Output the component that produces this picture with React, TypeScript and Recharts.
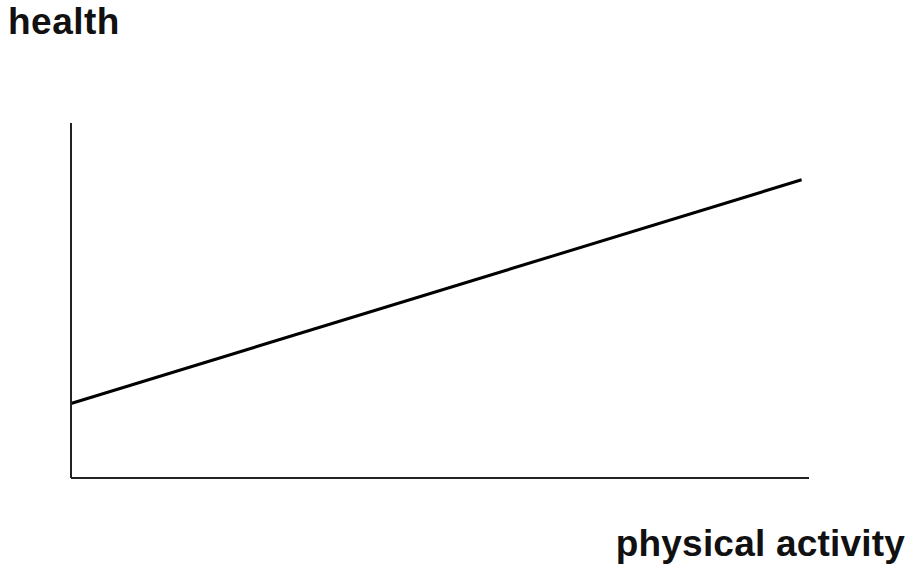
import React from 'react';
import { LineChart, Line, XAxis, YAxis, Label } from 'recharts';

const activity = [0, 99];
const healthValues = [21, 84];
const yTitle = 'health';
const xTitle = 'physical activity';

const data = activity.map((a, i) => ({ activity: a, health: healthValues[i] }));

const FONT = '"Liberation Sans", Arial, sans-serif';

export default function App() {
  return (
    <div style={{ position: 'absolute', left: 0, top: 0, width: 914, height: 571, background: '#fff' }}>
      <LineChart width={914} height={571} data={data} margin={{ top: 123, right: 105, bottom: 83, left: 61 }}>
        <XAxis
          dataKey="activity"
          type="number"
          domain={[0, 100]}
          tick={false}
          tickLine={false}
          height={10}
          axisLine={{ stroke: '#222', strokeWidth: 2 }}
        >
          <Label
            content={() => (
              <text x={905} y={556} textAnchor="end" fontFamily={FONT} fontWeight="bold" fontSize={37} letterSpacing={0.2} fill="#111">
                {xTitle}
              </text>
            )}
          />
        </XAxis>
        <YAxis
          type="number"
          domain={[0, 100]}
          tick={false}
          tickLine={false}
          width={10}
          axisLine={{ stroke: '#222', strokeWidth: 2 }}
        >
          <Label
            content={() => (
              <text x={8} y={34} textAnchor="start" fontFamily={FONT} fontWeight="bold" fontSize={37} letterSpacing={0.5} fill="#111">
                {yTitle}
              </text>
            )}
          />
        </YAxis>
        <Line
          dataKey="health"
          type="linear"
          stroke="#000"
          strokeWidth={3}
          dot={false}
          activeDot={false}
          isAnimationActive={false}
        />
      </LineChart>
    </div>
  );
}
